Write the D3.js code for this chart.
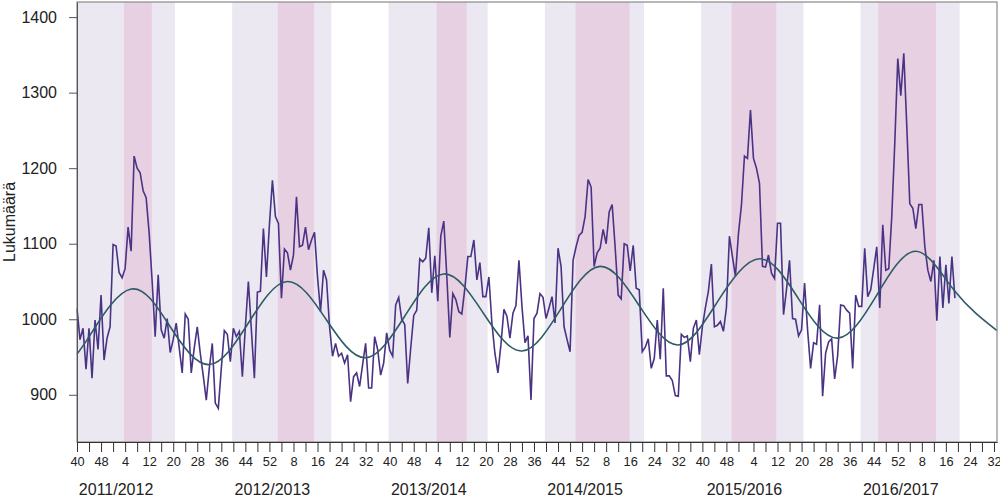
<!DOCTYPE html>
<html><head><meta charset="utf-8">
<script src="https://cdn.jsdelivr.net/npm/d3@7"></script>
<style>
body{margin:0;background:#fff}
svg{display:block}
text{font-family:"Liberation Sans",Arial,Helvetica,sans-serif;fill:#222}
</style>
</head><body>
<svg id="chart" width="1000" height="500"></svg>
<script>
// ---------- DATA ----------
const startYear = 2011, startWeek = 40;   // first weekly value: ISO week 40 / 2011
const endPoint = [2017, 33];               // right end of the time axis

// weekly counts (Lukumäärä), one per week from 2011 w40
const counts = [
1014,973,988,934,988,922,999,960,1032,946,975,990,1099,1097,1062,1055,1067,1122,1090,1216,
1200,1194,1170,1161,1114,1050,977,1059,986,975,1001,956,973,995,962,929,1007,1000,929,962,
990,955,925,893,935,968,889,882,935,985,980,944,988,977,984,924,990,1050,986,922,
1036,1037,1120,1056,1125,1184,1136,1127,1028,1093,1088,1065,1085,1162,1096,1098,1122,1092,1105,1115,
1056,1010,1065,1052,990,951,968,951,955,942,953,891,924,929,911,940,968,909,909,977,
960,926,942,982,959,951,1019,1029,1000,993,915,962,1005,1012,1080,1076,1081,1121,1035,1084,
1024,1110,1130,1057,976,1034,1026,1010,1007,1041,1083,1083,1105,1052,1075,1030,1030,1056,995,955,
929,966,1013,1004,975,1008,1018,1078,1017,969,978,893,1001,1008,1034,1029,1001,1015,1030,995,
1094,1070,990,973,957,1078,1096,1111,1115,1136,1185,1175,1070,1088,1094,1119,1100,1142,1152,1095,
1032,1027,1100,1098,1064,1098,1041,1039,957,963,974,935,948,999,947,1041,925,925,919,899,
898,980,976,978,944,988,999,953,990,1015,1037,1073,990,992,997,984,1015,1110,1083,1057,
1113,1151,1216,1213,1277,1213,1200,1180,1070,1069,1085,1061,1054,1127,1127,1006,1040,1078,1001,1000,
978,986,1048,986,935,969,967,1019,898,955,970,974,921,952,1019,1018,1012,1008,935,1032,
1017,1017,1094,1030,1039,1067,1096,1015,1125,1065,1067,1136,1233,1345,1296,1352,1255,1153,1147,1120,
1152,1152,1096,1065,1050,1078,998,1083,1015,1072,1021,1083,1028
];

// expected (baseline) level read at selected weeks [year, week]
const baselineWeeks = [[2011,40],[2011,45],[2012,6],[2012,19],[2012,32],[2012,45],[2013,6],[2013,19],
  [2013,32],[2013,45],[2014,6],[2014,19],[2014,32],[2014,45],[2015,6],[2015,19],[2015,32],[2015,45],
  [2016,6],[2016,19],[2016,32],[2016,45],[2017,6],[2017,19],[2017,33]];
const baselineValues = [954,983,1040,990,940,995,1050,999,
  949,1004,1060,1009,958,1014,1070,1018,966,1023,
  1080,1027,975,1032,1090,1037,985];

// seasons (week 40 -> week 20)
const seasonLabels = ["2011/2012","2012/2013","2013/2014","2014/2015","2015/2016","2016/2017"];
const seasonStartYears = [2011,2012,2013,2014,2015,2016];
const seasonStartWeek = 39.6, seasonEndWeek = 20.6;

// epidemic periods [year, week]
const epidemicStart = [[2012,3.6],[2013,2.8],[2014,3.6],[2014,49.8],[2015,49.7],[2016,45.5]];
const epidemicEnd   = [[2012,12.9],[2013,14.8],[2014,13.6],[2015,15.8],[2016,11.6],[2017,12.7]];

const yTicks = [900,1000,1100,1200,1300,1400];
const yTitle = "Lukumäärä";

// ---------- HELPERS ----------
const isoWeeksInYear = y => +d3.utcFormat("%V")(new Date(Date.UTC(y,11,28)));
function weekIndex(y, w){
  let idx = w - startWeek;
  for (let yy = startYear; yy < y; yy++) idx += isoWeeksInYear(yy);
  return idx;
}
function weekOf(idx){
  let y = startYear, w = startWeek + idx;
  while (w > isoWeeksInYear(y)) { w -= isoWeeksInYear(y); y++; }
  return [y, w];
}

// ---------- LAYOUT ----------
const svg = d3.select("#chart");
const L = 77, R = 997, T = 2, B = 442;
const endIdx = weekIndex(endPoint[0], endPoint[1]);
const x = d3.scaleLinear().domain([0, endIdx]).range([L, R]);
const y = d3.scaleLinear().domain([837.5, 1420]).range([B, T]);
const xc = v => Math.max(L, Math.min(R, x(v)));

const colLight = "#ECE8F1", colPink = "#E8D0E3", colLine = "#4A3384", colBase = "#2E5B68";

// season bands
svg.append("g").selectAll("rect").data(seasonStartYears).join("rect")
  .attr("x", d => xc(weekIndex(d, seasonStartWeek)))
  .attr("width", d => xc(weekIndex(d+1, seasonEndWeek)) - xc(weekIndex(d, seasonStartWeek)))
  .attr("y", T).attr("height", B - T).attr("fill", colLight);

// epidemic bands
svg.append("g").selectAll("rect").data(epidemicStart.map((s,i)=>[s, epidemicEnd[i]])).join("rect")
  .attr("x", d => xc(weekIndex(d[0][0], d[0][1])))
  .attr("width", d => xc(weekIndex(d[1][0], d[1][1])) - xc(weekIndex(d[0][0], d[0][1])))
  .attr("y", T).attr("height", B - T).attr("fill", colPink);

// weekly counts
svg.append("path").datum(counts)
  .attr("fill","none").attr("stroke", colLine).attr("stroke-width", 1.6)
  .attr("stroke-linejoin","miter")
  .attr("d", d3.line().x((d,i)=>x(i)).y(d=>y(d)));

// baseline
const basePts = baselineWeeks.map((w,i)=>[weekIndex(w[0], w[1]), baselineValues[i]]);
svg.append("path").datum(basePts)
  .attr("fill","none").attr("stroke", colBase).attr("stroke-width", 1.6)
  .attr("d", d3.line().curve(d3.curveNatural).x(d=>x(d[0])).y(d=>y(d[1])));

// frame
svg.append("rect").attr("x", L).attr("y", T).attr("width", R-L).attr("height", B-T)
  .attr("fill","none").attr("stroke","#8a8a8a").attr("stroke-width",1.2);

// y axis
const yAxis = svg.append("g").attr("transform", `translate(${L},0)`)
  .call(d3.axisLeft(y).tickValues(yTicks).tickFormat(d3.format("d"))
    .tickSize(8).tickSizeOuter(0).tickPadding(12));
yAxis.select(".domain").attr("stroke","#555");
yAxis.selectAll(".tick line").attr("stroke","#555");
yAxis.selectAll("text").attr("font-size", 16).style("font-family",'"Liberation Sans",Arial,sans-serif').attr("fill","#222");

// x axis ticks: every week number divisible by 4, label every other tick
const tickIdx = [];
for (let i = 0; i <= endIdx; i++) { const [yy, ww] = weekOf(i); if (ww % 4 === 0) tickIdx.push(i); }
const labelled = new Set(tickIdx.filter((d,i)=> i % 2 === 0));
const xAxis = svg.append("g").attr("transform", `translate(0,${B})`)
  .call(d3.axisBottom(x).tickValues(tickIdx).tickSize(10).tickSizeOuter(0).tickPadding(5)
    .tickFormat(d => labelled.has(d) ? weekOf(d)[1] : ""));
xAxis.select(".domain").attr("stroke","#333");
xAxis.selectAll(".tick line").attr("stroke","#333");
xAxis.selectAll("text").attr("font-size", 12.8).style("font-family",'"Liberation Sans",Arial,sans-serif').attr("fill","#222");

// season labels (centred at week 1 of the season's second year)
svg.append("g").selectAll("text").data(seasonLabels).join("text")
  .attr("x", (d,i) => x(weekIndex(seasonStartYears[i]+1, 1)))
  .attr("y", 495).attr("text-anchor","middle").attr("font-size", 16)
  .text(d => d);

// y title
svg.append("text").attr("transform", "translate(15,222) rotate(-90)")
  .attr("text-anchor","middle").attr("font-size", 16).text(yTitle);
</script>
</body></html>
